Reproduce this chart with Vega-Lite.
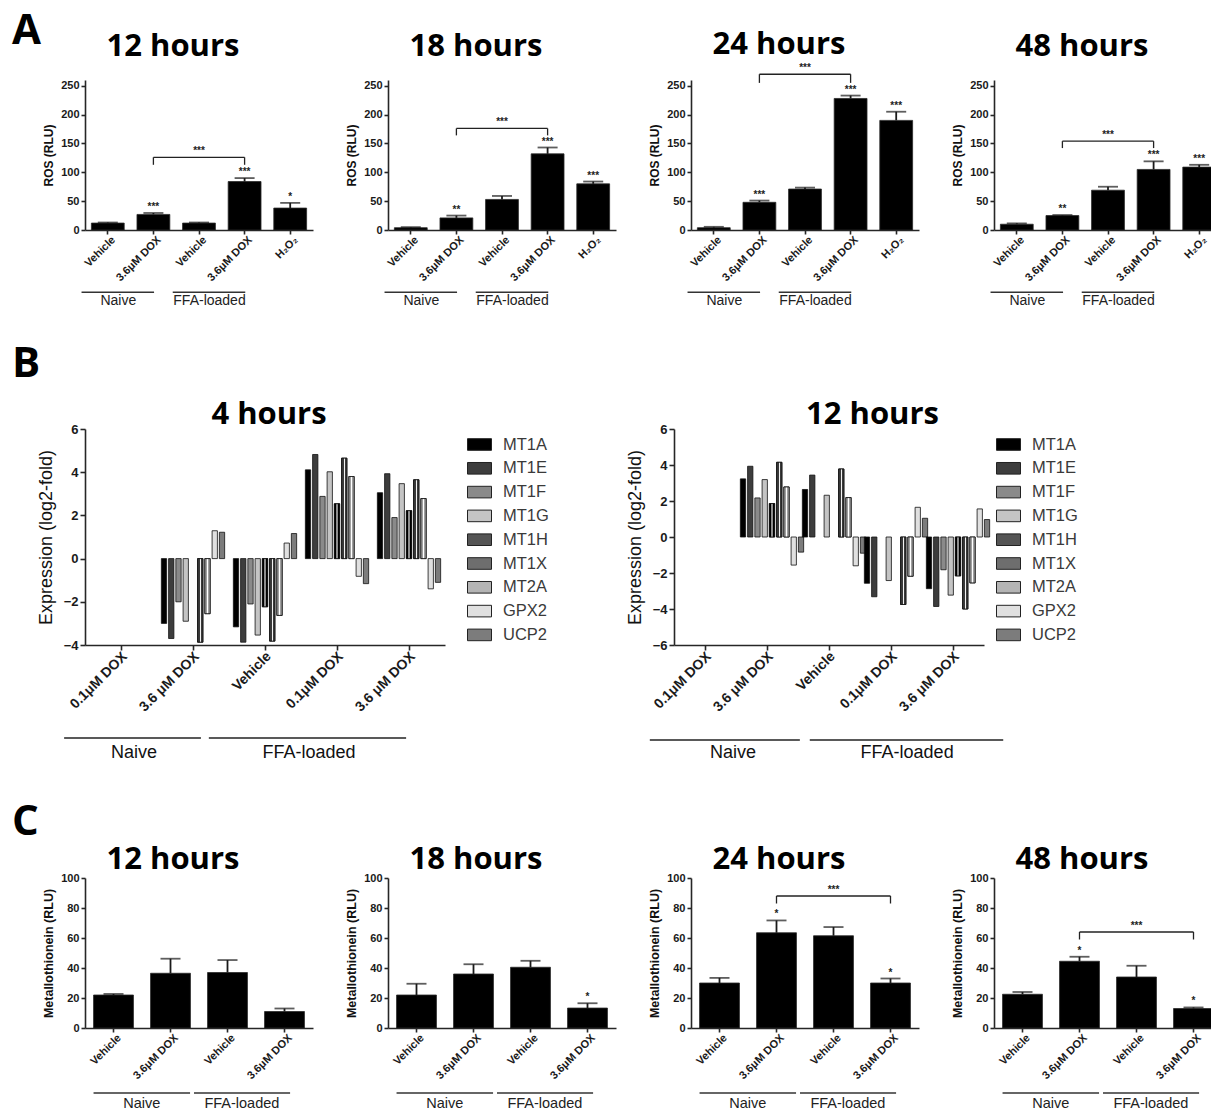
{
  "$schema": "https://vega.github.io/schema/vega-lite/v6.json",
  "padding": {"left": 12, "top": 10, "right": 0, "bottom": 0},
  "background": "white",
  "config": {
    "view": {"stroke": null},
    "font": "Liberation Sans",
    "axis": {"grid": false, "domainColor": "#262626", "domainWidth": 1.6, "tickColor": "#262626", "tickWidth": 1.6, "labelColor": "#1a1a1a", "titleColor": "#111111", "labelFont": "Liberation Sans", "titleFont": "Liberation Sans"},
    "axisY": {"labelOverlap": false, "labelFontWeight": "bold", "titleFontWeight": "bold", "labelPadding": 2, "tickSize": 4, "titlePadding": 5, "labelFontSize": 11, "titleFontSize": 12},
    "axisX": {"title": null, "labelExpr": "split(datum.value, '|')[1]", "labelAngle": -45, "labelAlign": "right", "labelBaseline": "middle", "labelFontSize": 11, "labelFontWeight": "bold", "labelPadding": 4, "labelOffset": 6, "tickSize": 4, "labelOverlap": false},
    "title": {"font": "Open Sans", "fontSize": 31, "fontWeight": "bold", "color": "#000000", "anchor": "middle", "frame": "group", "baseline": "alphabetic"}
  },
  "datasets": {
    "ros12": [
      {"k": "Naive|Vehicle", "v": 12, "hi": 13, "s": ""},
      {"k": "Naive|3.6μM DOX", "v": 27, "hi": 29.5, "s": "***"},
      {"k": "FFA-loaded|Vehicle", "v": 12, "hi": 13, "s": ""},
      {"k": "FFA-loaded|3.6μM DOX", "v": 84, "hi": 90, "s": "***"},
      {"k": "|H₂O₂", "v": 38, "hi": 47, "s": "*"}
    ],
    "ros18": [
      {"k": "Naive|Vehicle", "v": 4, "hi": 5, "s": ""},
      {"k": "Naive|3.6μM DOX", "v": 21, "hi": 25, "s": "**"},
      {"k": "FFA-loaded|Vehicle", "v": 53, "hi": 59, "s": ""},
      {"k": "FFA-loaded|3.6μM DOX", "v": 132, "hi": 143, "s": "***"},
      {"k": "|H₂O₂", "v": 80, "hi": 84, "s": "***"}
    ],
    "ros24": [
      {"k": "Naive|Vehicle", "v": 4, "hi": 5.5, "s": ""},
      {"k": "Naive|3.6μM DOX", "v": 48, "hi": 51, "s": "***"},
      {"k": "FFA-loaded|Vehicle", "v": 71, "hi": 73.5, "s": ""},
      {"k": "FFA-loaded|3.6μM DOX", "v": 228, "hi": 233, "s": "***"},
      {"k": "|H₂O₂", "v": 190, "hi": 205, "s": "***"}
    ],
    "ros48": [
      {"k": "Naive|Vehicle", "v": 10, "hi": 11.5, "s": ""},
      {"k": "Naive|3.6μM DOX", "v": 25, "hi": 26, "s": "**"},
      {"k": "FFA-loaded|Vehicle", "v": 69, "hi": 75, "s": ""},
      {"k": "FFA-loaded|3.6μM DOX", "v": 105, "hi": 119, "s": "***"},
      {"k": "|H₂O₂", "v": 109, "hi": 113, "s": "***"}
    ],
    "mt12": [
      {"k": "Naive|Vehicle", "v": 22, "hi": 22.7, "s": ""},
      {"k": "Naive|3.6μM DOX", "v": 36.5, "hi": 46.2, "s": ""},
      {"k": "FFA-loaded|Vehicle", "v": 37, "hi": 45.3, "s": ""},
      {"k": "FFA-loaded|3.6μM DOX", "v": 11, "hi": 13, "s": ""}
    ],
    "mt18": [
      {"k": "Naive|Vehicle", "v": 22, "hi": 29.5, "s": ""},
      {"k": "Naive|3.6μM DOX", "v": 36, "hi": 42.5, "s": ""},
      {"k": "FFA-loaded|Vehicle", "v": 40.5, "hi": 44.8, "s": ""},
      {"k": "FFA-loaded|3.6μM DOX", "v": 13.3, "hi": 16.5, "s": "*"}
    ],
    "mt24": [
      {"k": "Naive|Vehicle", "v": 30, "hi": 33.4, "s": ""},
      {"k": "Naive|3.6μM DOX", "v": 63.5, "hi": 71.7, "s": "*"},
      {"k": "FFA-loaded|Vehicle", "v": 61.5, "hi": 67.3, "s": ""},
      {"k": "FFA-loaded|3.6μM DOX", "v": 30, "hi": 33, "s": "*"}
    ],
    "mt48": [
      {"k": "Naive|Vehicle", "v": 22.5, "hi": 24, "s": ""},
      {"k": "Naive|3.6μM DOX", "v": 44.5, "hi": 47.5, "s": "*"},
      {"k": "FFA-loaded|Vehicle", "v": 34, "hi": 41.5, "s": ""},
      {"k": "FFA-loaded|3.6μM DOX", "v": 13, "hi": 13.7, "s": "*"}
    ],
    "grpA": [
      {"g": "Naive", "a": "Naive|Vehicle", "b": "Naive|3.6μM DOX"},
      {"g": "FFA-loaded", "a": "FFA-loaded|Vehicle", "b": "FFA-loaded|3.6μM DOX"}
    ],
    "ex4": [
      {"k": "Naive|3.6 μM DOX", "gene": "MT1A", "v": -3.0},
      {"k": "Naive|3.6 μM DOX", "gene": "MT1E", "v": -3.7},
      {"k": "Naive|3.6 μM DOX", "gene": "MT1F", "v": -2.0},
      {"k": "Naive|3.6 μM DOX", "gene": "MT1G", "v": -2.9},
      {"k": "Naive|3.6 μM DOX", "gene": "MT1X", "v": -3.87},
      {"k": "Naive|3.6 μM DOX", "gene": "MT2A", "v": -2.55},
      {"k": "Naive|3.6 μM DOX", "gene": "GPX2", "v": 1.29},
      {"k": "Naive|3.6 μM DOX", "gene": "UCP2", "v": 1.22},
      {"k": "FFA-loaded|Vehicle", "gene": "MT1A", "v": -3.16},
      {"k": "FFA-loaded|Vehicle", "gene": "MT1E", "v": -3.87},
      {"k": "FFA-loaded|Vehicle", "gene": "MT1F", "v": -2.1},
      {"k": "FFA-loaded|Vehicle", "gene": "MT1G", "v": -3.54},
      {"k": "FFA-loaded|Vehicle", "gene": "MT1H", "v": -2.23},
      {"k": "FFA-loaded|Vehicle", "gene": "MT1X", "v": -3.82},
      {"k": "FFA-loaded|Vehicle", "gene": "MT2A", "v": -2.63},
      {"k": "FFA-loaded|Vehicle", "gene": "GPX2", "v": 0.72},
      {"k": "FFA-loaded|Vehicle", "gene": "UCP2", "v": 1.16},
      {"k": "FFA-loaded|0.1μM DOX", "gene": "MT1A", "v": 4.11},
      {"k": "FFA-loaded|0.1μM DOX", "gene": "MT1E", "v": 4.82},
      {"k": "FFA-loaded|0.1μM DOX", "gene": "MT1F", "v": 2.88},
      {"k": "FFA-loaded|0.1μM DOX", "gene": "MT1G", "v": 4.02},
      {"k": "FFA-loaded|0.1μM DOX", "gene": "MT1H", "v": 2.54},
      {"k": "FFA-loaded|0.1μM DOX", "gene": "MT1X", "v": 4.65},
      {"k": "FFA-loaded|0.1μM DOX", "gene": "MT2A", "v": 3.8},
      {"k": "FFA-loaded|0.1μM DOX", "gene": "GPX2", "v": -0.82},
      {"k": "FFA-loaded|0.1μM DOX", "gene": "UCP2", "v": -1.16},
      {"k": "FFA-loaded|3.6 μM DOX", "gene": "MT1A", "v": 3.05},
      {"k": "FFA-loaded|3.6 μM DOX", "gene": "MT1E", "v": 3.93},
      {"k": "FFA-loaded|3.6 μM DOX", "gene": "MT1F", "v": 1.9},
      {"k": "FFA-loaded|3.6 μM DOX", "gene": "MT1G", "v": 3.47},
      {"k": "FFA-loaded|3.6 μM DOX", "gene": "MT1H", "v": 2.22},
      {"k": "FFA-loaded|3.6 μM DOX", "gene": "MT1X", "v": 3.65},
      {"k": "FFA-loaded|3.6 μM DOX", "gene": "MT2A", "v": 2.78},
      {"k": "FFA-loaded|3.6 μM DOX", "gene": "GPX2", "v": -1.4},
      {"k": "FFA-loaded|3.6 μM DOX", "gene": "UCP2", "v": -1.1}
    ],
    "ex12": [
      {"k": "Naive|3.6 μM DOX", "gene": "MT1A", "v": 3.23},
      {"k": "Naive|3.6 μM DOX", "gene": "MT1E", "v": 3.93},
      {"k": "Naive|3.6 μM DOX", "gene": "MT1F", "v": 2.17},
      {"k": "Naive|3.6 μM DOX", "gene": "MT1G", "v": 3.19},
      {"k": "Naive|3.6 μM DOX", "gene": "MT1H", "v": 1.86},
      {"k": "Naive|3.6 μM DOX", "gene": "MT1X", "v": 4.15},
      {"k": "Naive|3.6 μM DOX", "gene": "MT2A", "v": 2.78},
      {"k": "Naive|3.6 μM DOX", "gene": "GPX2", "v": -1.56},
      {"k": "Naive|3.6 μM DOX", "gene": "UCP2", "v": -0.84},
      {"k": "FFA-loaded|Vehicle", "gene": "MT1A", "v": 2.64},
      {"k": "FFA-loaded|Vehicle", "gene": "MT1E", "v": 3.44},
      {"k": "FFA-loaded|Vehicle", "gene": "MT1G", "v": 2.32},
      {"k": "FFA-loaded|Vehicle", "gene": "MT1X", "v": 3.78},
      {"k": "FFA-loaded|Vehicle", "gene": "MT2A", "v": 2.19},
      {"k": "FFA-loaded|Vehicle", "gene": "GPX2", "v": -1.6},
      {"k": "FFA-loaded|Vehicle", "gene": "UCP2", "v": -0.9},
      {"k": "FFA-loaded|0.1μM DOX", "gene": "MT1A", "v": -2.57},
      {"k": "FFA-loaded|0.1μM DOX", "gene": "MT1E", "v": -3.32},
      {"k": "FFA-loaded|0.1μM DOX", "gene": "MT1G", "v": -2.42},
      {"k": "FFA-loaded|0.1μM DOX", "gene": "MT1X", "v": -3.75},
      {"k": "FFA-loaded|0.1μM DOX", "gene": "MT2A", "v": -2.18},
      {"k": "FFA-loaded|0.1μM DOX", "gene": "GPX2", "v": 1.65},
      {"k": "FFA-loaded|0.1μM DOX", "gene": "UCP2", "v": 1.04},
      {"k": "FFA-loaded|3.6 μM DOX", "gene": "MT1A", "v": -2.87},
      {"k": "FFA-loaded|3.6 μM DOX", "gene": "MT1E", "v": -3.86},
      {"k": "FFA-loaded|3.6 μM DOX", "gene": "MT1F", "v": -1.82},
      {"k": "FFA-loaded|3.6 μM DOX", "gene": "MT1G", "v": -3.23},
      {"k": "FFA-loaded|3.6 μM DOX", "gene": "MT1H", "v": -2.16},
      {"k": "FFA-loaded|3.6 μM DOX", "gene": "MT1X", "v": -4.0},
      {"k": "FFA-loaded|3.6 μM DOX", "gene": "MT2A", "v": -2.55},
      {"k": "FFA-loaded|3.6 μM DOX", "gene": "GPX2", "v": 1.56},
      {"k": "FFA-loaded|3.6 μM DOX", "gene": "UCP2", "v": 0.97}
    ]
  },
  "spacing": 35,
  "vconcat": [
    {
      "title": {"text": "A", "anchor": "start", "frame": "group", "dx": -73, "offset": -24.5, "fontSize": 42},
      "spacing": 75,
      "bounds": "flush",
      "hconcat": [
        {
          "width": 228, "height": 150,
          "title": {"text": "12 hours", "dx": -26, "offset": 16.5},
          "data": {"name": "ros12"},
          "encoding": {"x": {"field": "k", "type": "nominal", "title": null, "scale": {"domain": ["Naive|Vehicle", "Naive|3.6μM DOX", "FFA-loaded|Vehicle", "FFA-loaded|3.6μM DOX", "|H₂O₂"], "paddingInner": 0.28, "paddingOuter": 0.14}}},
          "layer": [
            {"mark": {"type": "bar", "fill": "#000000", "stroke": "#2a2a2a", "strokeWidth": 0.8}, "encoding": {"y": {"field": "v", "type": "quantitative", "title": "ROS (RLU)", "scale": {"domain": [0, 250]}, "axis": {"title": "ROS (RLU)", "values": [0, 50, 100, 150, 200, 250], "labelOverlap": false}}}},
            {"mark": {"type": "rule", "color": "#1a1a1a", "strokeWidth": 1.8}, "encoding": {"y": {"field": "v", "type": "quantitative", "title": "ROS (RLU)", "axis": {"title": "ROS (RLU)", "values": [0, 50, 100, 150, 200, 250], "labelOverlap": false}}, "y2": {"field": "hi", "title": "ROS (RLU)"}}},
            {"mark": {"type": "tick", "color": "#1a1a1a", "thickness": 1.8, "size": 20}, "encoding": {"y": {"field": "hi", "type": "quantitative", "title": "ROS (RLU)", "axis": {"title": "ROS (RLU)", "values": [0, 50, 100, 150, 200, 250], "labelOverlap": false}}}},
            {"mark": {"type": "text", "fontSize": 10, "fontWeight": "bold", "baseline": "bottom", "dy": -1, "color": "#222222"}, "encoding": {"y": {"field": "hi", "type": "quantitative", "title": "ROS (RLU)", "axis": {"title": "ROS (RLU)", "values": [0, 50, 100, 150, 200, 250], "labelOverlap": false}}, "text": {"field": "s"}}},
            {"data": {"values": [{}]}, "mark": {"type": "rule", "color": "#222222", "strokeWidth": 1.3}, "encoding": {"x": {"datum": "Naive|3.6μM DOX", "type": "nominal", "bandPosition": 0.5, "title": null}, "x2": {"datum": "FFA-loaded|3.6μM DOX", "bandPosition": 0.5, "title": null}, "y": {"datum": 126, "type": "quantitative", "title": "ROS (RLU)", "axis": {"title": "ROS (RLU)", "values": [0, 50, 100, 150, 200, 250], "labelOverlap": false}}}},
            {"data": {"values": [{"k": "Naive|3.6μM DOX"}, {"k": "FFA-loaded|3.6μM DOX"}]}, "mark": {"type": "rule", "color": "#222222", "strokeWidth": 1.3}, "encoding": {"x": {"field": "k", "type": "nominal", "title": null}, "y": {"datum": 126, "type": "quantitative", "title": "ROS (RLU)", "axis": {"title": "ROS (RLU)", "values": [0, 50, 100, 150, 200, 250], "labelOverlap": false}}, "y2": {"datum": 113, "title": "ROS (RLU)"}}},
            {"data": {"values": [{}]}, "mark": {"type": "text", "text": "***", "fontSize": 10, "fontWeight": "bold", "baseline": "bottom", "dy": -1, "color": "#222222"}, "encoding": {"x": {"datum": "FFA-loaded|Vehicle", "type": "nominal", "title": null}, "y": {"datum": 126, "type": "quantitative", "title": "ROS (RLU)", "axis": {"title": "ROS (RLU)", "values": [0, 50, 100, 150, 200, 250], "labelOverlap": false}}}},
            {"data": {"name": "grpA"}, "mark": {"type": "rule", "color": "#333333", "strokeWidth": 1.5}, "encoding": {"x": {"field": "a", "type": "nominal", "bandPosition": -0.3, "title": null}, "x2": {"field": "b", "bandPosition": 0.52, "title": null}, "y": {"datum": -108, "type": "quantitative", "title": "ROS (RLU)", "axis": {"title": "ROS (RLU)", "values": [0, 50, 100, 150, 200, 250], "labelOverlap": false}}}},
            {"data": {"name": "grpA"}, "mark": {"type": "text", "fontSize": 14, "color": "#222222", "baseline": "middle"}, "encoding": {"x": {"field": "a", "type": "nominal", "bandPosition": 0.82, "title": null}, "y": {"datum": -123, "type": "quantitative", "title": "ROS (RLU)", "axis": {"title": "ROS (RLU)", "values": [0, 50, 100, 150, 200, 250], "labelOverlap": false}}, "text": {"field": "g"}}}
          ]
        },
        {
          "width": 228, "height": 150,
          "title": {"text": "18 hours", "dx": -26, "offset": 16.5},
          "data": {"name": "ros18"},
          "encoding": {"x": {"field": "k", "type": "nominal", "title": null, "scale": {"domain": ["Naive|Vehicle", "Naive|3.6μM DOX", "FFA-loaded|Vehicle", "FFA-loaded|3.6μM DOX", "|H₂O₂"], "paddingInner": 0.28, "paddingOuter": 0.14}}},
          "layer": [
            {"mark": {"type": "bar", "fill": "#000000", "stroke": "#2a2a2a", "strokeWidth": 0.8}, "encoding": {"y": {"field": "v", "type": "quantitative", "title": "ROS (RLU)", "scale": {"domain": [0, 250]}, "axis": {"title": "ROS (RLU)", "values": [0, 50, 100, 150, 200, 250], "labelOverlap": false}}}},
            {"mark": {"type": "rule", "color": "#1a1a1a", "strokeWidth": 1.8}, "encoding": {"y": {"field": "v", "type": "quantitative", "title": "ROS (RLU)", "axis": {"title": "ROS (RLU)", "values": [0, 50, 100, 150, 200, 250], "labelOverlap": false}}, "y2": {"field": "hi", "title": "ROS (RLU)"}}},
            {"mark": {"type": "tick", "color": "#1a1a1a", "thickness": 1.8, "size": 20}, "encoding": {"y": {"field": "hi", "type": "quantitative", "title": "ROS (RLU)", "axis": {"title": "ROS (RLU)", "values": [0, 50, 100, 150, 200, 250], "labelOverlap": false}}}},
            {"mark": {"type": "text", "fontSize": 10, "fontWeight": "bold", "baseline": "bottom", "dy": -1, "color": "#222222"}, "encoding": {"y": {"field": "hi", "type": "quantitative", "title": "ROS (RLU)", "axis": {"title": "ROS (RLU)", "values": [0, 50, 100, 150, 200, 250], "labelOverlap": false}}, "text": {"field": "s"}}},
            {"data": {"values": [{}]}, "mark": {"type": "rule", "color": "#222222", "strokeWidth": 1.3}, "encoding": {"x": {"datum": "Naive|3.6μM DOX", "type": "nominal", "bandPosition": 0.5, "title": null}, "x2": {"datum": "FFA-loaded|3.6μM DOX", "bandPosition": 0.5, "title": null}, "y": {"datum": 176, "type": "quantitative", "title": "ROS (RLU)", "axis": {"title": "ROS (RLU)", "values": [0, 50, 100, 150, 200, 250], "labelOverlap": false}}}},
            {"data": {"values": [{"k": "Naive|3.6μM DOX"}, {"k": "FFA-loaded|3.6μM DOX"}]}, "mark": {"type": "rule", "color": "#222222", "strokeWidth": 1.3}, "encoding": {"x": {"field": "k", "type": "nominal", "title": null}, "y": {"datum": 176, "type": "quantitative", "title": "ROS (RLU)", "axis": {"title": "ROS (RLU)", "values": [0, 50, 100, 150, 200, 250], "labelOverlap": false}}, "y2": {"datum": 164, "title": "ROS (RLU)"}}},
            {"data": {"values": [{}]}, "mark": {"type": "text", "text": "***", "fontSize": 10, "fontWeight": "bold", "baseline": "bottom", "dy": -1, "color": "#222222"}, "encoding": {"x": {"datum": "FFA-loaded|Vehicle", "type": "nominal", "title": null}, "y": {"datum": 176, "type": "quantitative", "title": "ROS (RLU)", "axis": {"title": "ROS (RLU)", "values": [0, 50, 100, 150, 200, 250], "labelOverlap": false}}}},
            {"data": {"name": "grpA"}, "mark": {"type": "rule", "color": "#333333", "strokeWidth": 1.5}, "encoding": {"x": {"field": "a", "type": "nominal", "bandPosition": -0.3, "title": null}, "x2": {"field": "b", "bandPosition": 0.52, "title": null}, "y": {"datum": -108, "type": "quantitative", "title": "ROS (RLU)", "axis": {"title": "ROS (RLU)", "values": [0, 50, 100, 150, 200, 250], "labelOverlap": false}}}},
            {"data": {"name": "grpA"}, "mark": {"type": "text", "fontSize": 14, "color": "#222222", "baseline": "middle"}, "encoding": {"x": {"field": "a", "type": "nominal", "bandPosition": 0.82, "title": null}, "y": {"datum": -123, "type": "quantitative", "title": "ROS (RLU)", "axis": {"title": "ROS (RLU)", "values": [0, 50, 100, 150, 200, 250], "labelOverlap": false}}, "text": {"field": "g"}}}
          ]
        },
        {
          "width": 228, "height": 150,
          "title": {"text": "24 hours", "dx": -26, "offset": 2.5},
          "data": {"name": "ros24"},
          "encoding": {"x": {"field": "k", "type": "nominal", "title": null, "scale": {"domain": ["Naive|Vehicle", "Naive|3.6μM DOX", "FFA-loaded|Vehicle", "FFA-loaded|3.6μM DOX", "|H₂O₂"], "paddingInner": 0.28, "paddingOuter": 0.14}}},
          "layer": [
            {"mark": {"type": "bar", "fill": "#000000", "stroke": "#2a2a2a", "strokeWidth": 0.8}, "encoding": {"y": {"field": "v", "type": "quantitative", "title": "ROS (RLU)", "scale": {"domain": [0, 250]}, "axis": {"title": "ROS (RLU)", "values": [0, 50, 100, 150, 200, 250], "labelOverlap": false}}}},
            {"mark": {"type": "rule", "color": "#1a1a1a", "strokeWidth": 1.8}, "encoding": {"y": {"field": "v", "type": "quantitative", "title": "ROS (RLU)", "axis": {"title": "ROS (RLU)", "values": [0, 50, 100, 150, 200, 250], "labelOverlap": false}}, "y2": {"field": "hi", "title": "ROS (RLU)"}}},
            {"mark": {"type": "tick", "color": "#1a1a1a", "thickness": 1.8, "size": 20}, "encoding": {"y": {"field": "hi", "type": "quantitative", "title": "ROS (RLU)", "axis": {"title": "ROS (RLU)", "values": [0, 50, 100, 150, 200, 250], "labelOverlap": false}}}},
            {"mark": {"type": "text", "fontSize": 10, "fontWeight": "bold", "baseline": "bottom", "dy": -1, "color": "#222222"}, "encoding": {"y": {"field": "hi", "type": "quantitative", "title": "ROS (RLU)", "axis": {"title": "ROS (RLU)", "values": [0, 50, 100, 150, 200, 250], "labelOverlap": false}}, "text": {"field": "s"}}},
            {"data": {"values": [{}]}, "mark": {"type": "rule", "color": "#222222", "strokeWidth": 1.3}, "encoding": {"x": {"datum": "Naive|3.6μM DOX", "type": "nominal", "bandPosition": 0.5, "title": null}, "x2": {"datum": "FFA-loaded|3.6μM DOX", "bandPosition": 0.5, "title": null}, "y": {"datum": 270, "type": "quantitative", "title": "ROS (RLU)", "axis": {"title": "ROS (RLU)", "values": [0, 50, 100, 150, 200, 250], "labelOverlap": false}}}},
            {"data": {"values": [{"k": "Naive|3.6μM DOX"}, {"k": "FFA-loaded|3.6μM DOX"}]}, "mark": {"type": "rule", "color": "#222222", "strokeWidth": 1.3}, "encoding": {"x": {"field": "k", "type": "nominal", "title": null}, "y": {"datum": 270, "type": "quantitative", "title": "ROS (RLU)", "axis": {"title": "ROS (RLU)", "values": [0, 50, 100, 150, 200, 250], "labelOverlap": false}}, "y2": {"datum": 255, "title": "ROS (RLU)"}}},
            {"data": {"values": [{}]}, "mark": {"type": "text", "text": "***", "fontSize": 10, "fontWeight": "bold", "baseline": "bottom", "dy": -1, "color": "#222222"}, "encoding": {"x": {"datum": "FFA-loaded|Vehicle", "type": "nominal", "title": null}, "y": {"datum": 270, "type": "quantitative", "title": "ROS (RLU)", "axis": {"title": "ROS (RLU)", "values": [0, 50, 100, 150, 200, 250], "labelOverlap": false}}}},
            {"data": {"name": "grpA"}, "mark": {"type": "rule", "color": "#333333", "strokeWidth": 1.5}, "encoding": {"x": {"field": "a", "type": "nominal", "bandPosition": -0.3, "title": null}, "x2": {"field": "b", "bandPosition": 0.52, "title": null}, "y": {"datum": -108, "type": "quantitative", "title": "ROS (RLU)", "axis": {"title": "ROS (RLU)", "values": [0, 50, 100, 150, 200, 250], "labelOverlap": false}}}},
            {"data": {"name": "grpA"}, "mark": {"type": "text", "fontSize": 14, "color": "#222222", "baseline": "middle"}, "encoding": {"x": {"field": "a", "type": "nominal", "bandPosition": 0.82, "title": null}, "y": {"datum": -123, "type": "quantitative", "title": "ROS (RLU)", "axis": {"title": "ROS (RLU)", "values": [0, 50, 100, 150, 200, 250], "labelOverlap": false}}, "text": {"field": "g"}}}
          ]
        },
        {
          "width": 228, "height": 150,
          "title": {"text": "48 hours", "dx": -26, "offset": 16.5},
          "data": {"name": "ros48"},
          "encoding": {"x": {"field": "k", "type": "nominal", "title": null, "scale": {"domain": ["Naive|Vehicle", "Naive|3.6μM DOX", "FFA-loaded|Vehicle", "FFA-loaded|3.6μM DOX", "|H₂O₂"], "paddingInner": 0.28, "paddingOuter": 0.14}}},
          "layer": [
            {"mark": {"type": "bar", "fill": "#000000", "stroke": "#2a2a2a", "strokeWidth": 0.8}, "encoding": {"y": {"field": "v", "type": "quantitative", "title": "ROS (RLU)", "scale": {"domain": [0, 250]}, "axis": {"title": "ROS (RLU)", "values": [0, 50, 100, 150, 200, 250], "labelOverlap": false}}}},
            {"mark": {"type": "rule", "color": "#1a1a1a", "strokeWidth": 1.8}, "encoding": {"y": {"field": "v", "type": "quantitative", "title": "ROS (RLU)", "axis": {"title": "ROS (RLU)", "values": [0, 50, 100, 150, 200, 250], "labelOverlap": false}}, "y2": {"field": "hi", "title": "ROS (RLU)"}}},
            {"mark": {"type": "tick", "color": "#1a1a1a", "thickness": 1.8, "size": 20}, "encoding": {"y": {"field": "hi", "type": "quantitative", "title": "ROS (RLU)", "axis": {"title": "ROS (RLU)", "values": [0, 50, 100, 150, 200, 250], "labelOverlap": false}}}},
            {"mark": {"type": "text", "fontSize": 10, "fontWeight": "bold", "baseline": "bottom", "dy": -1, "color": "#222222"}, "encoding": {"y": {"field": "hi", "type": "quantitative", "title": "ROS (RLU)", "axis": {"title": "ROS (RLU)", "values": [0, 50, 100, 150, 200, 250], "labelOverlap": false}}, "text": {"field": "s"}}},
            {"data": {"values": [{}]}, "mark": {"type": "rule", "color": "#222222", "strokeWidth": 1.3}, "encoding": {"x": {"datum": "Naive|3.6μM DOX", "type": "nominal", "bandPosition": 0.5, "title": null}, "x2": {"datum": "FFA-loaded|3.6μM DOX", "bandPosition": 0.5, "title": null}, "y": {"datum": 154, "type": "quantitative", "title": "ROS (RLU)", "axis": {"title": "ROS (RLU)", "values": [0, 50, 100, 150, 200, 250], "labelOverlap": false}}}},
            {"data": {"values": [{"k": "Naive|3.6μM DOX"}, {"k": "FFA-loaded|3.6μM DOX"}]}, "mark": {"type": "rule", "color": "#222222", "strokeWidth": 1.3}, "encoding": {"x": {"field": "k", "type": "nominal", "title": null}, "y": {"datum": 154, "type": "quantitative", "title": "ROS (RLU)", "axis": {"title": "ROS (RLU)", "values": [0, 50, 100, 150, 200, 250], "labelOverlap": false}}, "y2": {"datum": 142, "title": "ROS (RLU)"}}},
            {"data": {"values": [{}]}, "mark": {"type": "text", "text": "***", "fontSize": 10, "fontWeight": "bold", "baseline": "bottom", "dy": -1, "color": "#222222"}, "encoding": {"x": {"datum": "FFA-loaded|Vehicle", "type": "nominal", "title": null}, "y": {"datum": 154, "type": "quantitative", "title": "ROS (RLU)", "axis": {"title": "ROS (RLU)", "values": [0, 50, 100, 150, 200, 250], "labelOverlap": false}}}},
            {"data": {"name": "grpA"}, "mark": {"type": "rule", "color": "#333333", "strokeWidth": 1.5}, "encoding": {"x": {"field": "a", "type": "nominal", "bandPosition": -0.3, "title": null}, "x2": {"field": "b", "bandPosition": 0.52, "title": null}, "y": {"datum": -108, "type": "quantitative", "title": "ROS (RLU)", "axis": {"title": "ROS (RLU)", "values": [0, 50, 100, 150, 200, 250], "labelOverlap": false}}}},
            {"data": {"name": "grpA"}, "mark": {"type": "text", "fontSize": 14, "color": "#222222", "baseline": "middle"}, "encoding": {"x": {"field": "a", "type": "nominal", "bandPosition": 0.82, "title": null}, "y": {"datum": -123, "type": "quantitative", "title": "ROS (RLU)", "axis": {"title": "ROS (RLU)", "values": [0, 50, 100, 150, 200, 250], "labelOverlap": false}}, "text": {"field": "g"}}}
          ]
        }
      ]
    },
    {
      "spacing": 39,
      "vconcat": [
        {
          "title": {"text": "B", "anchor": "start", "frame": "group", "dx": -73, "offset": 13, "fontSize": 42},
          "spacing": 229,
          "bounds": "flush",
          "resolve": {"scale": {"color": "independent"}, "legend": {"color": "independent"}},
          "hconcat": [
            {
              "width": 360, "height": 216,
              "title": {"text": "4 hours", "dx": 4, "offset": -8},
              "data": {"name": "ex4"},
              "encoding": {"x": {"field": "k", "type": "nominal", "title": null, "scale": {"domain": ["Naive|0.1μM DOX", "Naive|3.6 μM DOX", "FFA-loaded|Vehicle", "FFA-loaded|0.1μM DOX", "FFA-loaded|3.6 μM DOX"], "paddingInner": 0, "paddingOuter": 0}, "axis": {"labelFontSize": 14, "labelOffset": 4, "tickSize": 5}}},
              "layer": [
                {"mark": {"type": "bar", "stroke": "#111111", "strokeWidth": 0.8},
                 "encoding": {
                   "xOffset": {"field": "gene", "type": "nominal", "scale": {"domain": ["MT1A", "MT1E", "MT1F", "MT1G", "MT1H", "MT1X", "MT2A", "GPX2", "UCP2"], "paddingInner": 0.27, "paddingOuter": 0.6}},
                   "y": {"field": "v", "type": "quantitative", "title": "Expression (log2-fold)", "scale": {"domain": [-4, 6]}, "axis": {"title": "Expression (log2-fold)", "values": [-4, -2, 0, 2, 4, 6], "labelOverlap": false, "labelFontSize": 13, "titleFontSize": 18, "titleFontWeight": "normal", "titlePadding": 8, "tickSize": 5}},
                   "color": {"field": "gene", "type": "nominal", "scale": {"domain": ["MT1A", "MT1E", "MT1F", "MT1G", "MT1H", "MT1X", "MT2A", "GPX2", "UCP2"], "range": ["#000000", "#3d3d3d", "#8a8a8a", "#c4c4c4", "#555555", "#6e6e6e", "#b4b4b4", "#e0e0e0", "#7c7c7c"]}, "legend": {"title": null, "orient": "right", "offset": 19, "padding": 5, "symbolType": "M-1.2,-0.58H1.2V0.58H-1.2Z", "symbolSize": 400, "symbolStrokeColor": "#222222", "symbolStrokeWidth": 1, "labelFontSize": 16.5, "labelFont": "Liberation Sans", "labelColor": "#3a3a3a", "labelOffset": 13, "rowPadding": 4.8}}
                 }},
                {"transform": [{"filter": "datum.gene === 'MT1H' || datum.gene === 'MT1X' || datum.gene === 'MT2A'"}],
                 "mark": {"type": "bar", "stroke": "#111111", "strokeWidth": 0.8},
                 "encoding": {
                   "xOffset": {"field": "gene", "type": "nominal"},
                   "y": {"field": "v", "type": "quantitative", "title": "Expression (log2-fold)", "axis": {"title": "Expression (log2-fold)", "values": [-4, -2, 0, 2, 4, 6], "labelOverlap": false, "labelFontSize": 13, "titleFontSize": 18, "titleFontWeight": "normal", "titlePadding": 8, "tickSize": 5}},
                   "fill": {"condition": [
                     {"test": "datum.gene === 'MT1H'", "value": {"gradient": "linear", "x1": 0, "y1": 0, "x2": 1, "y2": 0, "stops": [{"offset": 0, "color": "#000000"}, {"offset": 0.4, "color": "#000000"}, {"offset": 0.41, "color": "#ffffff"}, {"offset": 0.59, "color": "#ffffff"}, {"offset": 0.6, "color": "#000000"}, {"offset": 1, "color": "#000000"}]}},
                     {"test": "datum.gene === 'MT1X'", "value": {"gradient": "linear", "x1": 0, "y1": 0, "x2": 1, "y2": 0, "stops": [{"offset": 0, "color": "#3a3a3a"}, {"offset": 0.4, "color": "#3a3a3a"}, {"offset": 0.41, "color": "#f2f2f2"}, {"offset": 0.59, "color": "#f2f2f2"}, {"offset": 0.6, "color": "#3a3a3a"}, {"offset": 1, "color": "#3a3a3a"}]}}
                   ], "value": {"gradient": "linear", "x1": 0, "y1": 0, "x2": 1, "y2": 0, "stops": [{"offset": 0, "color": "#a0a0a0"}, {"offset": 0.4, "color": "#a0a0a0"}, {"offset": 0.41, "color": "#ffffff"}, {"offset": 0.59, "color": "#ffffff"}, {"offset": 0.6, "color": "#a0a0a0"}, {"offset": 1, "color": "#a0a0a0"}]}}
                 }},
                {"data": {"values": [{}]}, "mark": {"type": "rule", "color": "#000000", "strokeWidth": 2}, "encoding": {"y": {"datum": 0, "type": "quantitative", "title": "Expression (log2-fold)", "axis": {"title": "Expression (log2-fold)", "values": [-4, -2, 0, 2, 4, 6], "labelOverlap": false, "labelFontSize": 13, "titleFontSize": 18, "titleFontWeight": "normal", "titlePadding": 8, "tickSize": 5}}}},
                {"data": {"values": [{}]}, "mark": {"type": "rule", "color": "#222222", "strokeWidth": 1.5}, "encoding": {"x": {"datum": "Naive|0.1μM DOX", "type": "nominal", "bandPosition": -0.29, "title": null}, "x2": {"datum": "Naive|3.6 μM DOX", "bandPosition": 0.61, "title": null}, "y": {"datum": -8.31, "type": "quantitative", "title": "Expression (log2-fold)", "axis": {"title": "Expression (log2-fold)", "values": [-4, -2, 0, 2, 4, 6], "labelOverlap": false, "labelFontSize": 13, "titleFontSize": 18, "titleFontWeight": "normal", "titlePadding": 8, "tickSize": 5}}}},
                {"data": {"values": [{}]}, "mark": {"type": "rule", "color": "#222222", "strokeWidth": 1.5}, "encoding": {"x": {"datum": "FFA-loaded|Vehicle", "type": "nominal", "bandPosition": -0.28, "title": null}, "x2": {"datum": "FFA-loaded|3.6 μM DOX", "bandPosition": 0.46, "title": null}, "y": {"datum": -8.31, "type": "quantitative", "title": "Expression (log2-fold)", "axis": {"title": "Expression (log2-fold)", "values": [-4, -2, 0, 2, 4, 6], "labelOverlap": false, "labelFontSize": 13, "titleFontSize": 18, "titleFontWeight": "normal", "titlePadding": 8, "tickSize": 5}}}},
                {"data": {"values": [{}]}, "mark": {"type": "text", "text": "Naive", "fontSize": 18, "color": "#111111", "baseline": "middle"}, "encoding": {"x": {"datum": "Naive|0.1μM DOX", "type": "nominal", "bandPosition": 0.68, "title": null}, "y": {"datum": -9.0, "type": "quantitative", "title": "Expression (log2-fold)", "axis": {"title": "Expression (log2-fold)", "values": [-4, -2, 0, 2, 4, 6], "labelOverlap": false, "labelFontSize": 13, "titleFontSize": 18, "titleFontWeight": "normal", "titlePadding": 8, "tickSize": 5}}}},
                {"data": {"values": [{}]}, "mark": {"type": "text", "text": "FFA-loaded", "fontSize": 18, "color": "#111111", "baseline": "middle"}, "encoding": {"x": {"datum": "FFA-loaded|Vehicle", "type": "nominal", "bandPosition": 1.11, "title": null}, "y": {"datum": -9.0, "type": "quantitative", "title": "Expression (log2-fold)", "axis": {"title": "Expression (log2-fold)", "values": [-4, -2, 0, 2, 4, 6], "labelOverlap": false, "labelFontSize": 13, "titleFontSize": 18, "titleFontWeight": "normal", "titlePadding": 8, "tickSize": 5}}}}
              ]
            },
            {
              "width": 310, "height": 216,
              "title": {"text": "12 hours", "dx": 43.5, "offset": -8},
              "data": {"name": "ex12"},
              "encoding": {"x": {"field": "k", "type": "nominal", "title": null, "scale": {"domain": ["Naive|0.1μM DOX", "Naive|3.6 μM DOX", "FFA-loaded|Vehicle", "FFA-loaded|0.1μM DOX", "FFA-loaded|3.6 μM DOX"], "paddingInner": 0, "paddingOuter": 0}, "axis": {"labelFontSize": 14, "labelOffset": 4, "tickSize": 5}}},
              "layer": [
                {"mark": {"type": "bar", "stroke": "#111111", "strokeWidth": 0.8},
                 "encoding": {
                   "xOffset": {"field": "gene", "type": "nominal", "scale": {"domain": ["MT1A", "MT1E", "MT1F", "MT1G", "MT1H", "MT1X", "MT2A", "GPX2", "UCP2"], "paddingInner": 0.27, "paddingOuter": 0.6}},
                   "y": {"field": "v", "type": "quantitative", "title": "Expression (log2-fold)", "scale": {"domain": [-6, 6]}, "axis": {"title": "Expression (log2-fold)", "values": [-6, -4, -2, 0, 2, 4, 6], "labelOverlap": false, "labelFontSize": 13, "titleFontSize": 18, "titleFontWeight": "normal", "titlePadding": 8, "tickSize": 5}},
                   "color": {"field": "gene", "type": "nominal", "scale": {"domain": ["MT1A", "MT1E", "MT1F", "MT1G", "MT1H", "MT1X", "MT2A", "GPX2", "UCP2"], "range": ["#000000", "#3d3d3d", "#8a8a8a", "#c4c4c4", "#555555", "#6e6e6e", "#b4b4b4", "#e0e0e0", "#7c7c7c"]}, "legend": {"title": null, "orient": "right", "offset": 9, "padding": 5, "symbolType": "M-1.2,-0.58H1.2V0.58H-1.2Z", "symbolSize": 400, "symbolStrokeColor": "#222222", "symbolStrokeWidth": 1, "labelFontSize": 16.5, "labelFont": "Liberation Sans", "labelColor": "#3a3a3a", "labelOffset": 13, "rowPadding": 4.8}}
                 }},
                {"transform": [{"filter": "datum.gene === 'MT1H' || datum.gene === 'MT1X' || datum.gene === 'MT2A'"}],
                 "mark": {"type": "bar", "stroke": "#111111", "strokeWidth": 0.8},
                 "encoding": {
                   "xOffset": {"field": "gene", "type": "nominal"},
                   "y": {"field": "v", "type": "quantitative", "title": "Expression (log2-fold)", "axis": {"title": "Expression (log2-fold)", "values": [-6, -4, -2, 0, 2, 4, 6], "labelOverlap": false, "labelFontSize": 13, "titleFontSize": 18, "titleFontWeight": "normal", "titlePadding": 8, "tickSize": 5}},
                   "fill": {"condition": [
                     {"test": "datum.gene === 'MT1H'", "value": {"gradient": "linear", "x1": 0, "y1": 0, "x2": 1, "y2": 0, "stops": [{"offset": 0, "color": "#000000"}, {"offset": 0.4, "color": "#000000"}, {"offset": 0.41, "color": "#ffffff"}, {"offset": 0.59, "color": "#ffffff"}, {"offset": 0.6, "color": "#000000"}, {"offset": 1, "color": "#000000"}]}},
                     {"test": "datum.gene === 'MT1X'", "value": {"gradient": "linear", "x1": 0, "y1": 0, "x2": 1, "y2": 0, "stops": [{"offset": 0, "color": "#3a3a3a"}, {"offset": 0.4, "color": "#3a3a3a"}, {"offset": 0.41, "color": "#f2f2f2"}, {"offset": 0.59, "color": "#f2f2f2"}, {"offset": 0.6, "color": "#3a3a3a"}, {"offset": 1, "color": "#3a3a3a"}]}}
                   ], "value": {"gradient": "linear", "x1": 0, "y1": 0, "x2": 1, "y2": 0, "stops": [{"offset": 0, "color": "#a0a0a0"}, {"offset": 0.4, "color": "#a0a0a0"}, {"offset": 0.41, "color": "#ffffff"}, {"offset": 0.59, "color": "#ffffff"}, {"offset": 0.6, "color": "#a0a0a0"}, {"offset": 1, "color": "#a0a0a0"}]}}
                 }},
                {"data": {"values": [{}]}, "mark": {"type": "rule", "color": "#000000", "strokeWidth": 2}, "encoding": {"y": {"datum": 0, "type": "quantitative", "title": "Expression (log2-fold)", "axis": {"title": "Expression (log2-fold)", "values": [-6, -4, -2, 0, 2, 4, 6], "labelOverlap": false, "labelFontSize": 13, "titleFontSize": 18, "titleFontWeight": "normal", "titlePadding": 8, "tickSize": 5}}}},
                {"data": {"values": [{}]}, "mark": {"type": "rule", "color": "#222222", "strokeWidth": 1.5}, "encoding": {"x": {"datum": "Naive|0.1μM DOX", "type": "nominal", "bandPosition": -0.39, "title": null}, "x2": {"datum": "Naive|3.6 μM DOX", "bandPosition": 1.03, "title": null}, "y": {"datum": -11.28, "type": "quantitative", "title": "Expression (log2-fold)", "axis": {"title": "Expression (log2-fold)", "values": [-6, -4, -2, 0, 2, 4, 6], "labelOverlap": false, "labelFontSize": 13, "titleFontSize": 18, "titleFontWeight": "normal", "titlePadding": 8, "tickSize": 5}}}},
                {"data": {"values": [{}]}, "mark": {"type": "rule", "color": "#222222", "strokeWidth": 1.5}, "encoding": {"x": {"datum": "FFA-loaded|Vehicle", "type": "nominal", "bandPosition": 0.19, "title": null}, "x2": {"datum": "FFA-loaded|3.6 μM DOX", "bandPosition": 1.31, "title": null}, "y": {"datum": -11.28, "type": "quantitative", "title": "Expression (log2-fold)", "axis": {"title": "Expression (log2-fold)", "values": [-6, -4, -2, 0, 2, 4, 6], "labelOverlap": false, "labelFontSize": 13, "titleFontSize": 18, "titleFontWeight": "normal", "titlePadding": 8, "tickSize": 5}}}},
                {"data": {"values": [{}]}, "mark": {"type": "text", "text": "Naive", "fontSize": 18, "color": "#111111", "baseline": "middle"}, "encoding": {"x": {"datum": "Naive|0.1μM DOX", "type": "nominal", "bandPosition": 0.95, "title": null}, "y": {"datum": -12.0, "type": "quantitative", "title": "Expression (log2-fold)", "axis": {"title": "Expression (log2-fold)", "values": [-6, -4, -2, 0, 2, 4, 6], "labelOverlap": false, "labelFontSize": 13, "titleFontSize": 18, "titleFontWeight": "normal", "titlePadding": 8, "tickSize": 5}}}},
                {"data": {"values": [{}]}, "mark": {"type": "text", "text": "FFA-loaded", "fontSize": 18, "color": "#111111", "baseline": "middle"}, "encoding": {"x": {"datum": "FFA-loaded|0.1μM DOX", "type": "nominal", "bandPosition": 0.76, "title": null}, "y": {"datum": -12.0, "type": "quantitative", "title": "Expression (log2-fold)", "axis": {"title": "Expression (log2-fold)", "values": [-6, -4, -2, 0, 2, 4, 6], "labelOverlap": false, "labelFontSize": 13, "titleFontSize": 18, "titleFontWeight": "normal", "titlePadding": 8, "tickSize": 5}}}}
              ]
            }
          ]
        },
        {
          "title": {"text": "C", "anchor": "start", "frame": "group", "dx": -73, "offset": -0.5, "fontSize": 42},
          "spacing": 75,
          "bounds": "flush",
          "hconcat": [
            {
              "width": 228, "height": 150,
              "title": {"text": "12 hours", "dx": -26, "offset": -3.5},
              "data": {"name": "mt12"},
              "encoding": {"x": {"field": "k", "type": "nominal", "title": null, "scale": {"domain": ["Naive|Vehicle", "Naive|3.6μM DOX", "FFA-loaded|Vehicle", "FFA-loaded|3.6μM DOX"], "paddingInner": 0.3, "paddingOuter": 0.15}}},
              "layer": [
                {"mark": {"type": "bar", "fill": "#000000", "stroke": "#2a2a2a", "strokeWidth": 0.8}, "encoding": {"y": {"field": "v", "type": "quantitative", "title": "Metallothionein (RLU)", "scale": {"domain": [0, 100]}, "axis": {"title": "Metallothionein (RLU)", "values": [0, 20, 40, 60, 80, 100], "labelOverlap": false, "titleFontSize": 12.5}}}},
                {"mark": {"type": "rule", "color": "#1a1a1a", "strokeWidth": 1.8}, "encoding": {"y": {"field": "v", "type": "quantitative", "title": "Metallothionein (RLU)", "axis": {"title": "Metallothionein (RLU)", "values": [0, 20, 40, 60, 80, 100], "labelOverlap": false, "titleFontSize": 12.5}}, "y2": {"field": "hi", "title": "Metallothionein (RLU)"}}},
                {"mark": {"type": "tick", "color": "#1a1a1a", "thickness": 1.8, "size": 20}, "encoding": {"y": {"field": "hi", "type": "quantitative", "title": "Metallothionein (RLU)", "axis": {"title": "Metallothionein (RLU)", "values": [0, 20, 40, 60, 80, 100], "labelOverlap": false, "titleFontSize": 12.5}}}},
                {"mark": {"type": "text", "fontSize": 10, "fontWeight": "bold", "baseline": "bottom", "dy": -1, "color": "#222222"}, "encoding": {"y": {"field": "hi", "type": "quantitative", "title": "Metallothionein (RLU)", "axis": {"title": "Metallothionein (RLU)", "values": [0, 20, 40, 60, 80, 100], "labelOverlap": false, "titleFontSize": 12.5}}, "text": {"field": "s"}}},
                {"data": {"values": [{}]}, "mark": {"type": "rule", "color": "#333333", "strokeWidth": 1.5}, "encoding": {"x": {"datum": "Naive|Vehicle", "type": "nominal", "bandPosition": 0, "title": null}, "x2": {"datum": "Naive|3.6μM DOX", "bandPosition": 0.99, "title": null}, "y": {"datum": -43.3, "type": "quantitative", "title": "Metallothionein (RLU)", "axis": {"title": "Metallothionein (RLU)", "values": [0, 20, 40, 60, 80, 100], "labelOverlap": false, "titleFontSize": 12.5}}}},
                {"data": {"values": [{}]}, "mark": {"type": "rule", "color": "#333333", "strokeWidth": 1.5}, "encoding": {"x": {"datum": "FFA-loaded|Vehicle", "type": "nominal", "bandPosition": -0.34, "title": null}, "x2": {"datum": "FFA-loaded|3.6μM DOX", "bandPosition": 0.64, "title": null}, "y": {"datum": -43.3, "type": "quantitative", "title": "Metallothionein (RLU)", "axis": {"title": "Metallothionein (RLU)", "values": [0, 20, 40, 60, 80, 100], "labelOverlap": false, "titleFontSize": 12.5}}}},
                {"data": {"values": [{}]}, "mark": {"type": "text", "text": "Naive", "fontSize": 14.5, "color": "#222222", "baseline": "middle"}, "encoding": {"x": {"datum": "Naive|Vehicle", "type": "nominal", "bandPosition": 1.21, "title": null}, "y": {"datum": -50.7, "type": "quantitative", "title": "Metallothionein (RLU)", "axis": {"title": "Metallothionein (RLU)", "values": [0, 20, 40, 60, 80, 100], "labelOverlap": false, "titleFontSize": 12.5}}}},
                {"data": {"values": [{}]}, "mark": {"type": "text", "text": "FFA-loaded", "fontSize": 14.5, "color": "#222222", "baseline": "middle"}, "encoding": {"x": {"datum": "FFA-loaded|Vehicle", "type": "nominal", "bandPosition": 0.86, "title": null}, "y": {"datum": -50.7, "type": "quantitative", "title": "Metallothionein (RLU)", "axis": {"title": "Metallothionein (RLU)", "values": [0, 20, 40, 60, 80, 100], "labelOverlap": false, "titleFontSize": 12.5}}}}
              ]
            },
            {
              "width": 228, "height": 150,
              "title": {"text": "18 hours", "dx": -26, "offset": -3.5},
              "data": {"name": "mt18"},
              "encoding": {"x": {"field": "k", "type": "nominal", "title": null, "scale": {"domain": ["Naive|Vehicle", "Naive|3.6μM DOX", "FFA-loaded|Vehicle", "FFA-loaded|3.6μM DOX"], "paddingInner": 0.3, "paddingOuter": 0.15}}},
              "layer": [
                {"mark": {"type": "bar", "fill": "#000000", "stroke": "#2a2a2a", "strokeWidth": 0.8}, "encoding": {"y": {"field": "v", "type": "quantitative", "title": "Metallothionein (RLU)", "scale": {"domain": [0, 100]}, "axis": {"title": "Metallothionein (RLU)", "values": [0, 20, 40, 60, 80, 100], "labelOverlap": false, "titleFontSize": 12.5}}}},
                {"mark": {"type": "rule", "color": "#1a1a1a", "strokeWidth": 1.8}, "encoding": {"y": {"field": "v", "type": "quantitative", "title": "Metallothionein (RLU)", "axis": {"title": "Metallothionein (RLU)", "values": [0, 20, 40, 60, 80, 100], "labelOverlap": false, "titleFontSize": 12.5}}, "y2": {"field": "hi", "title": "Metallothionein (RLU)"}}},
                {"mark": {"type": "tick", "color": "#1a1a1a", "thickness": 1.8, "size": 20}, "encoding": {"y": {"field": "hi", "type": "quantitative", "title": "Metallothionein (RLU)", "axis": {"title": "Metallothionein (RLU)", "values": [0, 20, 40, 60, 80, 100], "labelOverlap": false, "titleFontSize": 12.5}}}},
                {"mark": {"type": "text", "fontSize": 10, "fontWeight": "bold", "baseline": "bottom", "dy": -1, "color": "#222222"}, "encoding": {"y": {"field": "hi", "type": "quantitative", "title": "Metallothionein (RLU)", "axis": {"title": "Metallothionein (RLU)", "values": [0, 20, 40, 60, 80, 100], "labelOverlap": false, "titleFontSize": 12.5}}, "text": {"field": "s"}}},
                {"data": {"values": [{}]}, "mark": {"type": "rule", "color": "#333333", "strokeWidth": 1.5}, "encoding": {"x": {"datum": "Naive|Vehicle", "type": "nominal", "bandPosition": 0, "title": null}, "x2": {"datum": "Naive|3.6μM DOX", "bandPosition": 0.99, "title": null}, "y": {"datum": -43.3, "type": "quantitative", "title": "Metallothionein (RLU)", "axis": {"title": "Metallothionein (RLU)", "values": [0, 20, 40, 60, 80, 100], "labelOverlap": false, "titleFontSize": 12.5}}}},
                {"data": {"values": [{}]}, "mark": {"type": "rule", "color": "#333333", "strokeWidth": 1.5}, "encoding": {"x": {"datum": "FFA-loaded|Vehicle", "type": "nominal", "bandPosition": -0.34, "title": null}, "x2": {"datum": "FFA-loaded|3.6μM DOX", "bandPosition": 0.64, "title": null}, "y": {"datum": -43.3, "type": "quantitative", "title": "Metallothionein (RLU)", "axis": {"title": "Metallothionein (RLU)", "values": [0, 20, 40, 60, 80, 100], "labelOverlap": false, "titleFontSize": 12.5}}}},
                {"data": {"values": [{}]}, "mark": {"type": "text", "text": "Naive", "fontSize": 14.5, "color": "#222222", "baseline": "middle"}, "encoding": {"x": {"datum": "Naive|Vehicle", "type": "nominal", "bandPosition": 1.21, "title": null}, "y": {"datum": -50.7, "type": "quantitative", "title": "Metallothionein (RLU)", "axis": {"title": "Metallothionein (RLU)", "values": [0, 20, 40, 60, 80, 100], "labelOverlap": false, "titleFontSize": 12.5}}}},
                {"data": {"values": [{}]}, "mark": {"type": "text", "text": "FFA-loaded", "fontSize": 14.5, "color": "#222222", "baseline": "middle"}, "encoding": {"x": {"datum": "FFA-loaded|Vehicle", "type": "nominal", "bandPosition": 0.86, "title": null}, "y": {"datum": -50.7, "type": "quantitative", "title": "Metallothionein (RLU)", "axis": {"title": "Metallothionein (RLU)", "values": [0, 20, 40, 60, 80, 100], "labelOverlap": false, "titleFontSize": 12.5}}}}
              ]
            },
            {
              "width": 228, "height": 150,
              "title": {"text": "24 hours", "dx": -26, "offset": -3.5},
              "data": {"name": "mt24"},
              "encoding": {"x": {"field": "k", "type": "nominal", "title": null, "scale": {"domain": ["Naive|Vehicle", "Naive|3.6μM DOX", "FFA-loaded|Vehicle", "FFA-loaded|3.6μM DOX"], "paddingInner": 0.3, "paddingOuter": 0.15}}},
              "layer": [
                {"mark": {"type": "bar", "fill": "#000000", "stroke": "#2a2a2a", "strokeWidth": 0.8}, "encoding": {"y": {"field": "v", "type": "quantitative", "title": "Metallothionein (RLU)", "scale": {"domain": [0, 100]}, "axis": {"title": "Metallothionein (RLU)", "values": [0, 20, 40, 60, 80, 100], "labelOverlap": false, "titleFontSize": 12.5}}}},
                {"mark": {"type": "rule", "color": "#1a1a1a", "strokeWidth": 1.8}, "encoding": {"y": {"field": "v", "type": "quantitative", "title": "Metallothionein (RLU)", "axis": {"title": "Metallothionein (RLU)", "values": [0, 20, 40, 60, 80, 100], "labelOverlap": false, "titleFontSize": 12.5}}, "y2": {"field": "hi", "title": "Metallothionein (RLU)"}}},
                {"mark": {"type": "tick", "color": "#1a1a1a", "thickness": 1.8, "size": 20}, "encoding": {"y": {"field": "hi", "type": "quantitative", "title": "Metallothionein (RLU)", "axis": {"title": "Metallothionein (RLU)", "values": [0, 20, 40, 60, 80, 100], "labelOverlap": false, "titleFontSize": 12.5}}}},
                {"mark": {"type": "text", "fontSize": 10, "fontWeight": "bold", "baseline": "bottom", "dy": -1, "color": "#222222"}, "encoding": {"y": {"field": "hi", "type": "quantitative", "title": "Metallothionein (RLU)", "axis": {"title": "Metallothionein (RLU)", "values": [0, 20, 40, 60, 80, 100], "labelOverlap": false, "titleFontSize": 12.5}}, "text": {"field": "s"}}},
                {"data": {"values": [{}]}, "mark": {"type": "rule", "color": "#222222", "strokeWidth": 1.3}, "encoding": {"x": {"datum": "Naive|3.6μM DOX", "type": "nominal", "bandPosition": 0.5, "title": null}, "x2": {"datum": "FFA-loaded|3.6μM DOX", "bandPosition": 0.5, "title": null}, "y": {"datum": 88, "type": "quantitative", "title": "Metallothionein (RLU)", "axis": {"title": "Metallothionein (RLU)", "values": [0, 20, 40, 60, 80, 100], "labelOverlap": false, "titleFontSize": 12.5}}}},
                {"data": {"values": [{"k": "Naive|3.6μM DOX"}, {"k": "FFA-loaded|3.6μM DOX"}]}, "mark": {"type": "rule", "color": "#222222", "strokeWidth": 1.3}, "encoding": {"x": {"field": "k", "type": "nominal", "title": null}, "y": {"datum": 88, "type": "quantitative", "title": "Metallothionein (RLU)", "axis": {"title": "Metallothionein (RLU)", "values": [0, 20, 40, 60, 80, 100], "labelOverlap": false, "titleFontSize": 12.5}}, "y2": {"datum": 83, "title": "Metallothionein (RLU)"}}},
                {"data": {"values": [{}]}, "mark": {"type": "text", "text": "***", "fontSize": 10, "fontWeight": "bold", "baseline": "bottom", "dy": -1, "color": "#222222"}, "encoding": {"x": {"datum": "FFA-loaded|Vehicle", "type": "nominal", "title": null}, "y": {"datum": 88, "type": "quantitative", "title": "Metallothionein (RLU)", "axis": {"title": "Metallothionein (RLU)", "values": [0, 20, 40, 60, 80, 100], "labelOverlap": false, "titleFontSize": 12.5}}}},
                {"data": {"values": [{}]}, "mark": {"type": "rule", "color": "#333333", "strokeWidth": 1.5}, "encoding": {"x": {"datum": "Naive|Vehicle", "type": "nominal", "bandPosition": 0, "title": null}, "x2": {"datum": "Naive|3.6μM DOX", "bandPosition": 0.99, "title": null}, "y": {"datum": -43.3, "type": "quantitative", "title": "Metallothionein (RLU)", "axis": {"title": "Metallothionein (RLU)", "values": [0, 20, 40, 60, 80, 100], "labelOverlap": false, "titleFontSize": 12.5}}}},
                {"data": {"values": [{}]}, "mark": {"type": "rule", "color": "#333333", "strokeWidth": 1.5}, "encoding": {"x": {"datum": "FFA-loaded|Vehicle", "type": "nominal", "bandPosition": -0.34, "title": null}, "x2": {"datum": "FFA-loaded|3.6μM DOX", "bandPosition": 0.64, "title": null}, "y": {"datum": -43.3, "type": "quantitative", "title": "Metallothionein (RLU)", "axis": {"title": "Metallothionein (RLU)", "values": [0, 20, 40, 60, 80, 100], "labelOverlap": false, "titleFontSize": 12.5}}}},
                {"data": {"values": [{}]}, "mark": {"type": "text", "text": "Naive", "fontSize": 14.5, "color": "#222222", "baseline": "middle"}, "encoding": {"x": {"datum": "Naive|Vehicle", "type": "nominal", "bandPosition": 1.21, "title": null}, "y": {"datum": -50.7, "type": "quantitative", "title": "Metallothionein (RLU)", "axis": {"title": "Metallothionein (RLU)", "values": [0, 20, 40, 60, 80, 100], "labelOverlap": false, "titleFontSize": 12.5}}}},
                {"data": {"values": [{}]}, "mark": {"type": "text", "text": "FFA-loaded", "fontSize": 14.5, "color": "#222222", "baseline": "middle"}, "encoding": {"x": {"datum": "FFA-loaded|Vehicle", "type": "nominal", "bandPosition": 0.86, "title": null}, "y": {"datum": -50.7, "type": "quantitative", "title": "Metallothionein (RLU)", "axis": {"title": "Metallothionein (RLU)", "values": [0, 20, 40, 60, 80, 100], "labelOverlap": false, "titleFontSize": 12.5}}}}
              ]
            },
            {
              "width": 228, "height": 150,
              "title": {"text": "48 hours", "dx": -26, "offset": -3.5},
              "data": {"name": "mt48"},
              "encoding": {"x": {"field": "k", "type": "nominal", "title": null, "scale": {"domain": ["Naive|Vehicle", "Naive|3.6μM DOX", "FFA-loaded|Vehicle", "FFA-loaded|3.6μM DOX"], "paddingInner": 0.3, "paddingOuter": 0.15}}},
              "layer": [
                {"mark": {"type": "bar", "fill": "#000000", "stroke": "#2a2a2a", "strokeWidth": 0.8}, "encoding": {"y": {"field": "v", "type": "quantitative", "title": "Metallothionein (RLU)", "scale": {"domain": [0, 100]}, "axis": {"title": "Metallothionein (RLU)", "values": [0, 20, 40, 60, 80, 100], "labelOverlap": false, "titleFontSize": 12.5}}}},
                {"mark": {"type": "rule", "color": "#1a1a1a", "strokeWidth": 1.8}, "encoding": {"y": {"field": "v", "type": "quantitative", "title": "Metallothionein (RLU)", "axis": {"title": "Metallothionein (RLU)", "values": [0, 20, 40, 60, 80, 100], "labelOverlap": false, "titleFontSize": 12.5}}, "y2": {"field": "hi", "title": "Metallothionein (RLU)"}}},
                {"mark": {"type": "tick", "color": "#1a1a1a", "thickness": 1.8, "size": 20}, "encoding": {"y": {"field": "hi", "type": "quantitative", "title": "Metallothionein (RLU)", "axis": {"title": "Metallothionein (RLU)", "values": [0, 20, 40, 60, 80, 100], "labelOverlap": false, "titleFontSize": 12.5}}}},
                {"mark": {"type": "text", "fontSize": 10, "fontWeight": "bold", "baseline": "bottom", "dy": -1, "color": "#222222"}, "encoding": {"y": {"field": "hi", "type": "quantitative", "title": "Metallothionein (RLU)", "axis": {"title": "Metallothionein (RLU)", "values": [0, 20, 40, 60, 80, 100], "labelOverlap": false, "titleFontSize": 12.5}}, "text": {"field": "s"}}},
                {"data": {"values": [{}]}, "mark": {"type": "rule", "color": "#222222", "strokeWidth": 1.3}, "encoding": {"x": {"datum": "Naive|3.6μM DOX", "type": "nominal", "bandPosition": 0.5, "title": null}, "x2": {"datum": "FFA-loaded|3.6μM DOX", "bandPosition": 0.5, "title": null}, "y": {"datum": 64, "type": "quantitative", "title": "Metallothionein (RLU)", "axis": {"title": "Metallothionein (RLU)", "values": [0, 20, 40, 60, 80, 100], "labelOverlap": false, "titleFontSize": 12.5}}}},
                {"data": {"values": [{"k": "Naive|3.6μM DOX"}, {"k": "FFA-loaded|3.6μM DOX"}]}, "mark": {"type": "rule", "color": "#222222", "strokeWidth": 1.3}, "encoding": {"x": {"field": "k", "type": "nominal", "title": null}, "y": {"datum": 64, "type": "quantitative", "title": "Metallothionein (RLU)", "axis": {"title": "Metallothionein (RLU)", "values": [0, 20, 40, 60, 80, 100], "labelOverlap": false, "titleFontSize": 12.5}}, "y2": {"datum": 59, "title": "Metallothionein (RLU)"}}},
                {"data": {"values": [{}]}, "mark": {"type": "text", "text": "***", "fontSize": 10, "fontWeight": "bold", "baseline": "bottom", "dy": -1, "color": "#222222"}, "encoding": {"x": {"datum": "FFA-loaded|Vehicle", "type": "nominal", "title": null}, "y": {"datum": 64, "type": "quantitative", "title": "Metallothionein (RLU)", "axis": {"title": "Metallothionein (RLU)", "values": [0, 20, 40, 60, 80, 100], "labelOverlap": false, "titleFontSize": 12.5}}}},
                {"data": {"values": [{}]}, "mark": {"type": "rule", "color": "#333333", "strokeWidth": 1.5}, "encoding": {"x": {"datum": "Naive|Vehicle", "type": "nominal", "bandPosition": 0, "title": null}, "x2": {"datum": "Naive|3.6μM DOX", "bandPosition": 0.99, "title": null}, "y": {"datum": -43.3, "type": "quantitative", "title": "Metallothionein (RLU)", "axis": {"title": "Metallothionein (RLU)", "values": [0, 20, 40, 60, 80, 100], "labelOverlap": false, "titleFontSize": 12.5}}}},
                {"data": {"values": [{}]}, "mark": {"type": "rule", "color": "#333333", "strokeWidth": 1.5}, "encoding": {"x": {"datum": "FFA-loaded|Vehicle", "type": "nominal", "bandPosition": -0.34, "title": null}, "x2": {"datum": "FFA-loaded|3.6μM DOX", "bandPosition": 0.64, "title": null}, "y": {"datum": -43.3, "type": "quantitative", "title": "Metallothionein (RLU)", "axis": {"title": "Metallothionein (RLU)", "values": [0, 20, 40, 60, 80, 100], "labelOverlap": false, "titleFontSize": 12.5}}}},
                {"data": {"values": [{}]}, "mark": {"type": "text", "text": "Naive", "fontSize": 14.5, "color": "#222222", "baseline": "middle"}, "encoding": {"x": {"datum": "Naive|Vehicle", "type": "nominal", "bandPosition": 1.21, "title": null}, "y": {"datum": -50.7, "type": "quantitative", "title": "Metallothionein (RLU)", "axis": {"title": "Metallothionein (RLU)", "values": [0, 20, 40, 60, 80, 100], "labelOverlap": false, "titleFontSize": 12.5}}}},
                {"data": {"values": [{}]}, "mark": {"type": "text", "text": "FFA-loaded", "fontSize": 14.5, "color": "#222222", "baseline": "middle"}, "encoding": {"x": {"datum": "FFA-loaded|Vehicle", "type": "nominal", "bandPosition": 0.86, "title": null}, "y": {"datum": -50.7, "type": "quantitative", "title": "Metallothionein (RLU)", "axis": {"title": "Metallothionein (RLU)", "values": [0, 20, 40, 60, 80, 100], "labelOverlap": false, "titleFontSize": 12.5}}}}
              ]
            }
          ]
        }
      ]
    }
  ]
}
